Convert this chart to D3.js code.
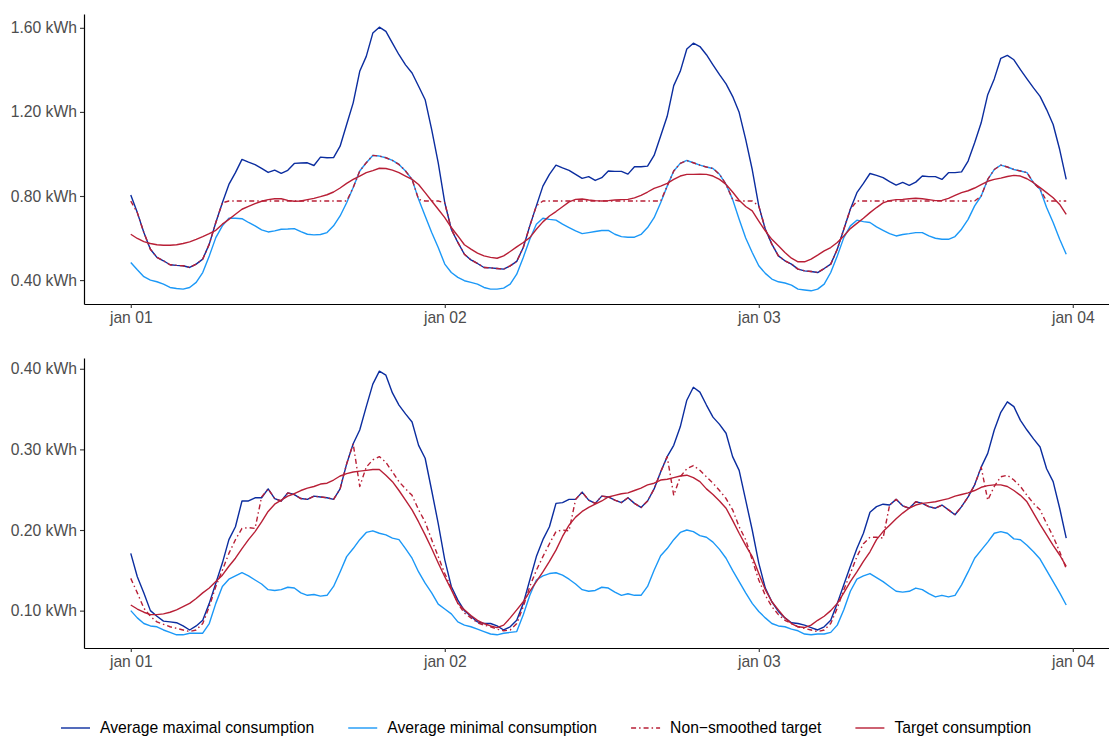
<!DOCTYPE html>
<html>
<head>
<meta charset="utf-8">
<script src="https://cdn.jsdelivr.net/npm/d3@7.9.0/dist/d3.min.js"></script>
<style>
  body { margin: 0; background: #fff; }
  svg { display: block; font-family: "Liberation Sans", Arial, sans-serif; }
</style>
</head>
<body>
<div id="chart"></div>
<script>
// half-hourly readings, jan 01 00:00 -> jan 03 23:30 (144 points)
const dayLabels = ["jan 01", "jan 02", "jan 03", "jan 04"];

const topMax = [
  .805,.721,.626,.547,.508,.492,.473,.470,.468,.460,
  .476,.500,.571,.674,.768,.855,.911,.974,.961,.949,
  .931,.912,.923,.908,.922,.955,.957,.958,.945,.985,
  .982,.983,1.037,1.140,1.243,1.393,1.464,1.575,1.603,1.583,
  1.527,1.472,1.424,1.385,1.322,1.258,1.116,.958,.768,.642,
  .579,.523,.496,.479,.460,.458,.455,.452,.468,.489,
  .555,.658,.753,.847,.903,.947,.934,.922,.903,.884,
  .892,.874,.887,.919,.917,.917,.904,.939,.939,.942,
  .993,1.085,1.179,1.325,1.393,1.499,1.527,1.511,1.472,1.424,
  1.377,1.333,1.274,1.198,1.069,.926,.753,.642,.571,.515,
  .492,.476,.452,.444,.441,.436,.455,.476,.547,.642,
  .737,.816,.860,.907,.898,.887,.868,.852,.865,.851,
  .866,.895,.892,.892,.879,.911,.911,.915,.966,1.053,
  1.148,1.282,1.357,1.455,1.469,1.448,1.401,1.357,1.314,1.274,
  1.211,1.140,1.021,.879
];
const topMin = [
  .484,.449,.416,.400,.392,.381,.365,.360,.357,.365,
  .389,.436,.515,.602,.658,.694,.694,.692,.674,.658,
  .639,.629,.634,.642,.643,.645,.631,.618,.615,.617,
  .626,.658,.705,.768,.840,.919,.958,.993,.990,.982,
  .969,.950,.919,.879,.784,.705,.626,.555,.476,.436,
  .413,.397,.389,.381,.365,.357,.357,.362,.381,.428,
  .508,.594,.666,.694,.689,.685,.666,.650,.634,.621,
  .626,.631,.636,.636,.618,.607,.604,.604,.617,.650,
  .697,.768,.847,.919,.955,.969,.958,.947,.938,.931,
  .903,.855,.784,.689,.600,.531,.468,.432,.405,.392,
  .386,.376,.357,.353,.349,.357,.381,.436,.515,.602,
  .658,.685,.678,.674,.653,.637,.621,.610,.617,.621,
  .626,.626,.610,.599,.594,.594,.607,.642,.689,.753,
  .800,.879,.926,.947,.938,.926,.919,.911,.863,.832,
  .745,.674,.594,.523
];
const topRaw = [
  .776,.721,.626,.547,.508,.492,.473,.470,.468,.460,
  .476,.500,.571,.674,.768,.776,.776,.776,.776,.776,
  .776,.776,.776,.776,.776,.776,.776,.776,.776,.776,
  .776,.776,.776,.776,.840,.919,.958,.993,.990,.982,
  .969,.950,.919,.879,.784,.776,.776,.776,.768,.642,
  .579,.523,.496,.479,.460,.458,.455,.452,.468,.489,
  .555,.658,.753,.776,.776,.776,.776,.776,.776,.776,
  .776,.776,.776,.776,.776,.776,.776,.776,.776,.776,
  .776,.776,.847,.919,.955,.969,.958,.947,.938,.931,
  .903,.855,.784,.776,.776,.776,.753,.642,.571,.515,
  .492,.476,.452,.444,.441,.436,.455,.476,.547,.642,
  .737,.776,.776,.776,.776,.776,.776,.776,.776,.776,
  .776,.776,.776,.776,.776,.776,.776,.776,.776,.776,
  .800,.879,.926,.947,.938,.926,.919,.911,.863,.832,
  .776,.776,.776,.776
];
const topTarget = [
  .618,.598,.583,.574,.568,.566,.566,.568,.574,.582,
  .594,.607,.621,.637,.666,.689,.713,.737,.751,.764,
  .775,.783,.787,.787,.779,.775,.776,.783,.789,.797,
  .806,.819,.838,.860,.879,.895,.911,.921,.932,.931,
  .923,.911,.895,.879,.855,.816,.776,.737,.697,.650,
  .610,.568,.547,.528,.515,.508,.504,.515,.536,.558,
  .579,.602,.642,.677,.705,.726,.749,.772,.784,.786,
  .781,.778,.776,.778,.781,.783,.784,.791,.803,.819,
  .836,.847,.860,.879,.895,.903,.903,.904,.903,.895,
  .879,.855,.819,.780,.750,.729,.681,.634,.594,.563,
  .531,.504,.487,.487,.500,.519,.539,.555,.579,.610,
  .645,.670,.694,.721,.745,.767,.778,.783,.784,.787,
  .789,.787,.783,.778,.779,.789,.803,.816,.825,.838,
  .854,.870,.879,.885,.893,.898,.895,.882,.863,.840,
  .816,.792,.760,.713
];

const botMax = [
  .171,.142,.122,.100,.093,.087,.086,.085,.081,.076,
  .081,.088,.109,.134,.159,.188,.204,.236,.236,.240,
  .240,.251,.239,.236,.246,.244,.239,.238,.242,.241,
  .240,.238,.251,.282,.307,.324,.353,.381,.397,.392,
  .370,.355,.344,.334,.305,.289,.249,.208,.163,.130,
  .113,.100,.093,.086,.084,.084,.081,.076,.080,.088,
  .109,.138,.167,.188,.204,.233,.234,.238,.238,.247,
  .237,.233,.242,.241,.237,.234,.240,.233,.228,.236,
  .251,.272,.291,.305,.328,.361,.377,.371,.355,.340,
  .331,.320,.291,.274,.237,.200,.159,.128,.111,.099,
  .091,.085,.084,.082,.079,.076,.080,.088,.109,.132,
  .155,.177,.196,.222,.229,.232,.231,.238,.230,.227,
  .235,.233,.229,.227,.231,.225,.219,.229,.241,.256,
  .278,.295,.324,.346,.359,.353,.336,.324,.313,.303,
  .276,.260,.227,.190
];
const botMin = [
  .100,.091,.084,.081,.080,.076,.073,.070,.070,.072,
  .072,.072,.084,.109,.130,.139,.143,.147,.143,.138,
  .133,.126,.125,.126,.129,.128,.122,.119,.120,.118,
  .119,.130,.148,.167,.177,.188,.197,.199,.196,.194,
  .190,.188,.177,.165,.148,.134,.122,.108,.102,.096,
  .086,.082,.080,.077,.074,.071,.070,.072,.073,.074,
  .095,.119,.138,.143,.146,.147,.144,.139,.133,.126,
  .124,.125,.129,.128,.123,.119,.121,.119,.119,.130,
  .150,.168,.177,.188,.197,.200,.198,.193,.191,.185,
  .176,.165,.150,.136,.122,.109,.099,.091,.084,.081,
  .080,.077,.075,.071,.070,.071,.071,.073,.082,.101,
  .124,.139,.143,.146,.141,.136,.130,.124,.123,.124,
  .128,.126,.121,.117,.119,.117,.119,.132,.148,.165,
  .175,.185,.196,.198,.196,.189,.188,.181,.173,.164,
  .150,.136,.122,.107
];
const botRaw = [
  .140,.122,.103,.093,.086,.083,.080,.078,.076,.074,
  .076,.084,.105,.130,.150,.171,.188,.202,.203,.202,
  .241,.251,.239,.236,.246,.244,.239,.238,.242,.241,
  .240,.238,.251,.282,.307,.254,.278,.287,.291,.284,
  .272,.260,.251,.243,.225,.210,.188,.167,.146,.128,
  .109,.097,.091,.085,.082,.080,.077,.075,.076,.084,
  .105,.130,.150,.167,.183,.198,.200,.199,.238,.247,
  .237,.233,.242,.241,.237,.234,.240,.233,.228,.236,
  .251,.272,.291,.243,.266,.276,.280,.274,.266,.258,
  .249,.239,.225,.204,.188,.163,.138,.119,.105,.095,
  .088,.084,.080,.078,.076,.074,.076,.084,.103,.126,
  .146,.167,.183,.191,.191,.190,.231,.238,.230,.227,
  .235,.233,.229,.227,.231,.225,.219,.229,.241,.256,
  .278,.237,.254,.266,.268,.262,.254,.243,.233,.225,
  .208,.192,.173,.152
];
const botTarget = [
  .107,.102,.098,.095,.095,.096,.098,.101,.105,.109,
  .115,.122,.128,.136,.144,.155,.165,.177,.188,.198,
  .210,.223,.232,.237,.242,.245,.249,.252,.254,.257,
  .258,.262,.267,.270,.272,.273,.274,.275,.275,.268,
  .260,.249,.237,.225,.210,.194,.177,.159,.142,.126,
  .109,.101,.094,.088,.084,.081,.079,.082,.091,.101,
  .111,.124,.136,.148,.161,.175,.192,.206,.216,.223,
  .228,.232,.236,.241,.243,.245,.246,.249,.252,.256,
  .258,.262,.263,.265,.267,.268,.265,.260,.251,.244,
  .236,.227,.212,.196,.181,.167,.146,.126,.111,.101,
  .091,.084,.080,.079,.082,.088,.093,.100,.109,.122,
  .136,.148,.161,.173,.188,.198,.206,.214,.221,.227,
  .231,.233,.234,.235,.237,.239,.242,.244,.246,.249,
  .253,.255,.256,.256,.254,.249,.243,.235,.221,.207,
  .194,.181,.169,.155
];

const topTicks = [0.4, 0.8, 1.2, 1.6];
const botTicks = [0.1, 0.2, 0.3, 0.4];

const seriesNames = ["Average maximal consumption", "Average minimal consumption",
                     "Non\u2212smoothed target", "Target consumption"];

const CONFIG = {
  WIDTH: 1109,
  HEIGHT: 738,
  LEFT: 84,
  RIGHT: 1113,
  PANELS: [{ top: 14, bottom: 304 }, { top: 358, bottom: 648 }],
  LEGEND_Y: 728,
  FONT: 15.7
};

const styles = [
  { color: "#0b2d9f", dash: null },
  { color: "#1b98f7", dash: null },
  { color: "#b81f36", dash: "5,3,1.5,3" },
  { color: "#b81f36", dash: null }
];

const start = new Date(2021, 0, 1);
const times = d3.range(topMax.length).map(i => d3.timeMinute.offset(start, 30 * i));
const dayDates = dayLabels.map((_, i) => d3.timeDay.offset(start, i));

const svg = d3.select("#chart").append("svg")
  .attr("width", CONFIG.WIDTH)
  .attr("height", CONFIG.HEIGHT);

// ggplot-like 5% expansion on x
const tSpan = times[times.length - 1] - times[0];
const x = d3.scaleTime()
  .domain([new Date(+times[0] - tSpan * 0.05), new Date(+times[times.length - 1] + tSpan * 0.05)])
  .range([CONFIG.LEFT, CONFIG.RIGHT]);

function drawPanel(panel, series, ticks) {
  const all = series.flat();
  const lo = d3.min(all), hi = d3.max(all);
  const pad = (hi - lo) * 0.05;
  const y = d3.scaleLinear().domain([lo - pad, hi + pad]).range([panel.bottom, panel.top]);

  const line = d3.line()
    .x((d, i) => x(times[i]))
    .y(d => y(d));

  series.forEach((s, k) => {
    svg.append("path")
      .datum(s)
      .attr("d", line)
      .attr("fill", "none")
      .attr("stroke", styles[k].color)
      .attr("stroke-width", 1.4)
      .attr("stroke-linejoin", "round")
      .attr("stroke-dasharray", styles[k].dash);
  });

  const yAxis = svg.append("g")
    .attr("transform", `translate(${CONFIG.LEFT},0)`)
    .call(d3.axisLeft(y).tickValues(ticks).tickSize(4).tickSizeOuter(0).tickPadding(3)
      .tickFormat(d => d3.format(".2f")(d) + " kWh"));

  const xAxis = svg.append("g")
    .attr("transform", `translate(0,${panel.bottom})`)
    .call(d3.axisBottom(x).tickValues(dayDates).tickSize(4).tickSizeOuter(0).tickPadding(4)
      .tickFormat((d, i) => dayLabels[i]));

  [yAxis, xAxis].forEach(ax => {
    ax.select(".domain").attr("stroke", "#000").attr("stroke-width", 1.2);
    ax.selectAll(".tick line").attr("stroke", "#333").attr("stroke-width", 1.1);
    ax.selectAll(".tick text")
      .attr("fill", "#4d4d4d")
      .attr("font-size", CONFIG.FONT)
      .attr("font-family", "Liberation Sans, Arial, sans-serif");
  });
}

drawPanel(CONFIG.PANELS[0], [topMax, topMin, topRaw, topTarget], topTicks);
drawPanel(CONFIG.PANELS[1], [botMax, botMin, botRaw, botTarget], botTicks);

// legend
const legend = svg.append("g").attr("class", "legend");
let lx = 61;
seriesNames.forEach((name, k) => {
  legend.append("line")
    .attr("x1", lx).attr("x2", lx + 29)
    .attr("y1", CONFIG.LEGEND_Y).attr("y2", CONFIG.LEGEND_Y)
    .attr("stroke", styles[k].color)
    .attr("stroke-width", 1.4)
    .attr("stroke-dasharray", styles[k].dash);
  const t = legend.append("text")
    .attr("x", lx + 39).attr("y", CONFIG.LEGEND_Y)
    .attr("dy", "0.35em")
    .attr("font-size", CONFIG.FONT)
    .attr("fill", "#000")
    .text(name);
  lx += 39 + t.node().getComputedTextLength() + 34;
});
</script>
</body>
</html>
